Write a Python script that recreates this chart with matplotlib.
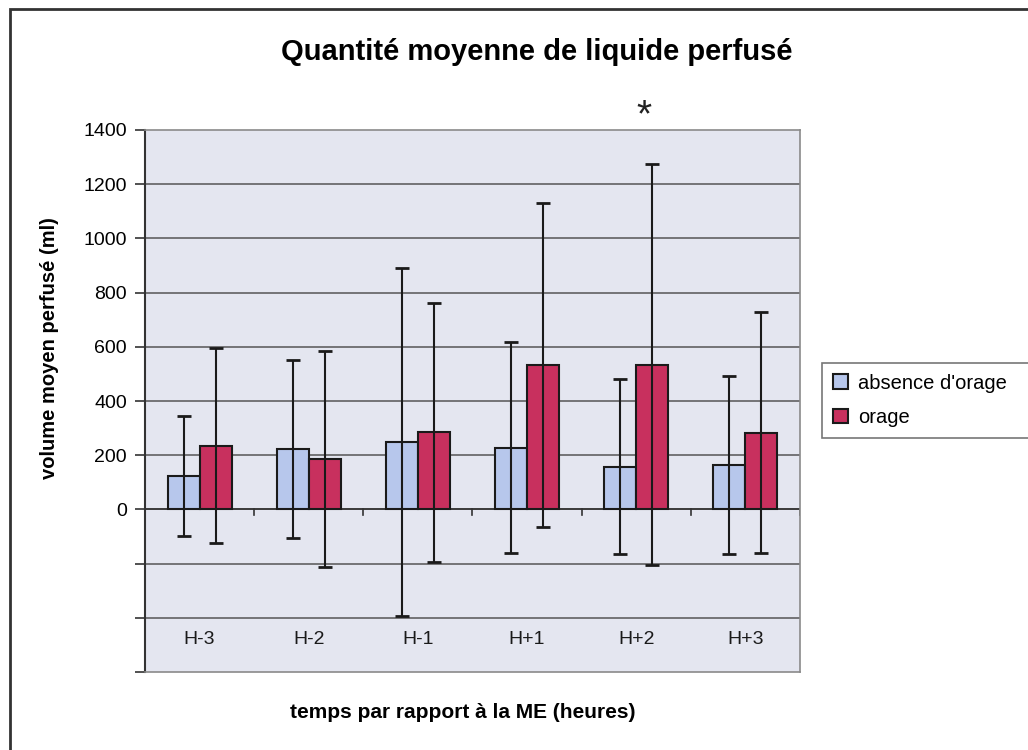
import matplotlib
matplotlib.use('Agg')

import numpy as np
import matplotlib.pyplot as plt
import matplotlib.patches as patches

plt.rcParams['font.family'] = ['Liberation Sans', 'DejaVu Sans']

# données
categories = ['H-3', 'H-2', 'H-1', 'H+1', 'H+2', 'H+3']
absence_moy = [124, 222, 249, 228, 158, 164]
absence_err = [221, 328, 643, 390, 322, 330]
orage_moy = [235, 186, 285, 533, 533, 283]
orage_err = [360, 400, 478, 598, 740, 444]
series_labels = ["absence d'orage", 'orage']

W, H = 1028, 750
fig = plt.figure(figsize=(W / 100, H / 100), dpi=100)
fig.patch.set_facecolor('white')

# cadre autour du graphique
fig.add_artist(patches.Rectangle((10 / W, -0.1), 1.2, 1 - 9 / H + 0.1,
                                 transform=fig.transFigure, fill=False,
                                 edgecolor='#333333', lw=2))

ax = fig.add_axes([145 / W, 1 - 672 / H, (800 - 145) / W, (672 - 130) / H])
ax.set_facecolor('#e4e6f0')

x = np.arange(len(categories))
w = 0.293
blue = '#b7c7ec'
red = '#c8305e'

ax.bar(x - w / 2, absence_moy, w, color=blue, edgecolor='#1a1a1a', lw=1.5,
       label=series_labels[0], zorder=3)
ax.bar(x + w / 2, orage_moy, w, color=red, edgecolor='#1a1a1a', lw=1.5,
       label=series_labels[1], zorder=3)
ax.errorbar(x - w / 2, absence_moy, yerr=absence_err, fmt='none', ecolor='#1a1a1a',
            elinewidth=1.5, capsize=5, capthick=2, zorder=4)
ax.errorbar(x + w / 2, orage_moy, yerr=orage_err, fmt='none', ecolor='#1a1a1a',
            elinewidth=1.5, capsize=5, capthick=2, zorder=4)

ax.set_xlim(-0.5, len(categories) - 0.5)
ax.set_ylim(-600, 1400)

yt = np.arange(-600, 1401, 200)
ax.set_yticks(yt)
ax.set_yticklabels([str(v) if v >= 0 else '' for v in yt], fontsize=14)
ax.tick_params(axis='y', direction='out', length=7, width=1.2, color='#333333', pad=6)
ax.set_xticks([])
for v in yt[1:-1]:
    ax.axhline(v, color='#555555', lw=1.1, zorder=1)

# axe des catégories à 0
ax.axhline(0, color='#333333', lw=1.2, zorder=2)
for b in np.arange(0.5, len(categories), 1.0):
    ax.plot([b, b], [0, -22], color='#333333', lw=1.2, zorder=2)

for i, c in enumerate(categories):
    ax.text(i, -480, c, ha='center', va='center', fontsize=14, color='#1a1a1a')

for s in ['top', 'right', 'bottom']:
    ax.spines[s].set_color('#8a8a8a')
    ax.spines[s].set_linewidth(1.2)
ax.spines['left'].set_color('#333333')
ax.spines['left'].set_linewidth(1.5)

ax.text(4 + w / 4, 1450, '*', ha='center', va='center', fontsize=28,
        color='#222222', clip_on=False)

fig.text(537 / W, 1 - 52 / H, 'Quantité moyenne de liquide perfusé',
         ha='center', va='center', fontsize=21, fontweight='bold')
fig.text(463 / W, 1 - 712 / H, 'temps par rapport à la ME (heures)',
         ha='center', va='center', fontsize=15, fontweight='bold')
fig.text(50 / W, 1 - 348 / H, 'volume moyen perfusé (ml)', rotation=90,
         ha='center', va='center', fontsize=14.5, fontweight='bold')

leg = fig.legend(loc='lower left', bbox_to_anchor=(822 / W, 1 - 438 / H, 230 / W, 75 / H),
                 mode='expand', borderaxespad=0, fontsize=14.5, handlelength=0.75,
                 handleheight=0.75, handletextpad=0.5, labelspacing=0.75, borderpad=0.55,
                 fancybox=False, frameon=True)
leg.get_frame().set_edgecolor('#555555')
leg.get_frame().set_linewidth(1.2)

fig.savefig('out.png', dpi=100)
